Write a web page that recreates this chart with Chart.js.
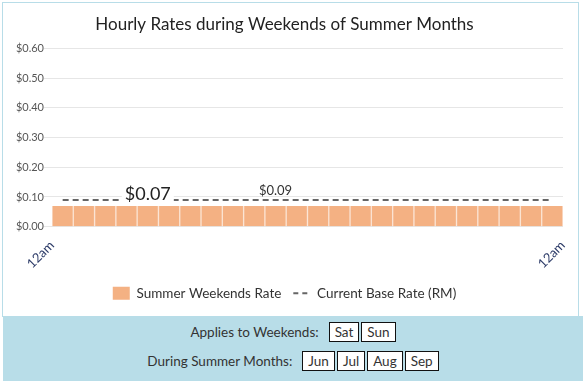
<!DOCTYPE html>
<html>
<head>
<meta charset="utf-8">
<script src="https://cdn.jsdelivr.net/npm/chart.js@4.4.0/dist/chart.umd.min.js"></script>
<style>
  body { margin: 0; background: #fff; font-family: Lato, "Open Sans", sans-serif; }
  #frame {
    position: absolute; left: 2px; top: 2px; width: 575px; height: 314px;
    border: 1px solid #b8dde8; border-bottom: none;
  }
  #wrap { position: absolute; left: 4px; top: 3px; width: 573px; height: 313px; }
  #panel {
    position: absolute; left: 3px; top: 316px; width: 580px; height: 65px;
    background: #b8dde8; color: #333; font-size: 13.5px;
  }
  .row { position: absolute; left: 0; width: 100%; text-align: center; white-space: nowrap; }
  .tag {
    display: inline-block; background: #fff; border: 1px solid #111;
    padding: 0 5px; margin-left: 2px; line-height: 18px;
  }
  .lbl { margin-right: 8px; }
</style>
</head>
<body>
<div id="frame"></div>
<div id="wrap"><canvas id="myChart"></canvas></div>
<div id="panel">
  <div class="row" id="row1" style="top:6px"><span class="lbl">Applies to Weekends:</span></div>
  <div class="row" id="row2" style="top:35px"><span class="lbl">During Summer Months:</span></div>
</div>
<script>
const hours = ['12am', '1am', '2am', '3am', '4am', '5am', '6am', '7am', '8am', '9am', '10am', '11am',
  '12pm', '1pm', '2pm', '3pm', '4pm', '5pm', '6pm', '7pm', '8pm', '9pm', '10pm', '11pm']
const weekendRates = [0.07, 0.07, 0.07, 0.07, 0.07, 0.07, 0.07, 0.07, 0.07, 0.07, 0.07, 0.07,
  0.07, 0.07, 0.07, 0.07, 0.07, 0.07, 0.07, 0.07, 0.07, 0.07, 0.07, 0.07]
const baseRates = [0.09, 0.09, 0.09, 0.09, 0.09, 0.09, 0.09, 0.09, 0.09, 0.09, 0.09, 0.09,
  0.09, 0.09, 0.09, 0.09, 0.09, 0.09, 0.09, 0.09, 0.09, 0.09, 0.09, 0.09]
const edgeTicks = ['12am', '12am']
const yMax = 0.6
const yStep = 0.1
const weekendDays = ['Sat', 'Sun']
const summerMonths = ['Jun', 'Jul', 'Aug', 'Sep']
// hours that carry a value label
const barLabelAt = 4
const lineLabelAt = 10

function addTags(rowId, items) {
    const row = document.getElementById(rowId)
    items.forEach(t => {
        const s = document.createElement('span')
        s.className = 'tag'
        s.textContent = t
        row.appendChild(s)
    })
}
addTags('row1', weekendDays)
addTags('row2', summerMonths)

const fontFamily = 'Lato, "Open Sans", sans-serif'
const money = v => '$' + Number(v).toFixed(2)

const valueLabels = {
    id: 'valueLabels',
    afterDatasetsDraw(chart) {
        const ctx = chart.ctx
        ctx.save()
        ctx.textAlign = 'center'
        ctx.textBaseline = 'alphabetic'

        const bar = chart.getDatasetMeta(0).data[barLabelAt]
        ctx.font = '18px ' + fontFamily
        const t1 = money(weekendRates[barLabelAt])
        const w1 = ctx.measureText(t1).width
        const y1 = chart.scales.y.getPixelForValue(baseRates[barLabelAt]) + 1
        ctx.fillStyle = '#fff'
        ctx.fillRect(bar.x - w1 / 2 - 3, y1 - 17, w1 + 6, 19)
        ctx.fillStyle = '#222'
        ctx.fillText(t1, bar.x, y1 - 1)

        const pt = chart.getDatasetMeta(1).data[lineLabelAt]
        ctx.font = '13px ' + fontFamily
        ctx.fillStyle = '#333'
        ctx.fillText(money(baseRates[lineLabelAt]), pt.x, pt.y - 5)
        ctx.restore()
    }
}

const ctx = document.getElementById('myChart').getContext('2d')
const myChart = new Chart(ctx, {
    data: {
        labels: hours,
        datasets: [{
            type: 'bar',
            label: 'Summer Weekends Rate',
            data: weekendRates,
            backgroundColor: '#f4b183',
            borderColor: '#fbe3d2',
            borderWidth: { left: 1, right: 1, top: 0, bottom: 0 },
            categoryPercentage: 1,
            barPercentage: 1
        }, {
            type: 'line',
            label: 'Current Base Rate (RM)',
            data: baseRates,
            borderColor: '#666',
            backgroundColor: '#666',
            borderWidth: 2,
            borderDash: [6, 4],
            pointRadius: 0,
            fill: false
        }]
    },
    plugins: [valueLabels],
    options: {
        responsive: true,
        maintainAspectRatio: false,
        animation: false,
        layout: { padding: { left: 0, right: 12, top: 0, bottom: 6 } },
        scales: {
            x: { display: false },
            x2: {
                type: 'linear',
                position: 'bottom',
                min: 0,
                max: 24,
                grid: { display: false },
                border: { display: false },
                ticks: {
                    stepSize: 24,
                    maxRotation: 45,
                    minRotation: 45,
                    color: '#2b3a67',
                    font: { family: fontFamily, size: 13 },
                    callback: v => v === 0 ? edgeTicks[0] : edgeTicks[1]
                }
            },
            y: {
                min: 0,
                max: yMax,
                border: { display: false },
                grid: { color: '#e6e6e6', lineWidth: 1 },
                afterFit: scale => { scale.width = 48 },
                ticks: {
                    stepSize: yStep,
                    color: '#555',
                    padding: 0,
                    font: { family: fontFamily, size: 11 },
                    callback: v => money(v)
                }
            }
        },
        plugins: {
            title: {
                display: true,
                text: 'Hourly Rates during Weekends of Summer Months',
                color: '#222',
                font: { family: fontFamily, size: 17, weight: 'normal' },
                padding: { top: 11, bottom: 14 }
            },
            legend: {
                position: 'bottom',
                labels: {
                    color: '#333',
                    font: { family: fontFamily, size: 13.5 },
                    usePointStyle: true,
                    pointStyleWidth: 17,
                    boxHeight: 13,
                    padding: 12,
                    generateLabels(chart) {
                        const items = Chart.defaults.plugins.legend.labels.generateLabels(chart)
                        items[0].pointStyle = 'rect'
                        items[0].strokeStyle = '#f4b183'
                        items[0].lineWidth = 0
                        items[1].pointStyle = 'line'
                        items[1].lineDash = [5, 4]
                        items[1].lineWidth = 2
                        return items
                    }
                }
            },
            tooltip: { enabled: false }
        }
    }
})
</script>
</body>
</html>
